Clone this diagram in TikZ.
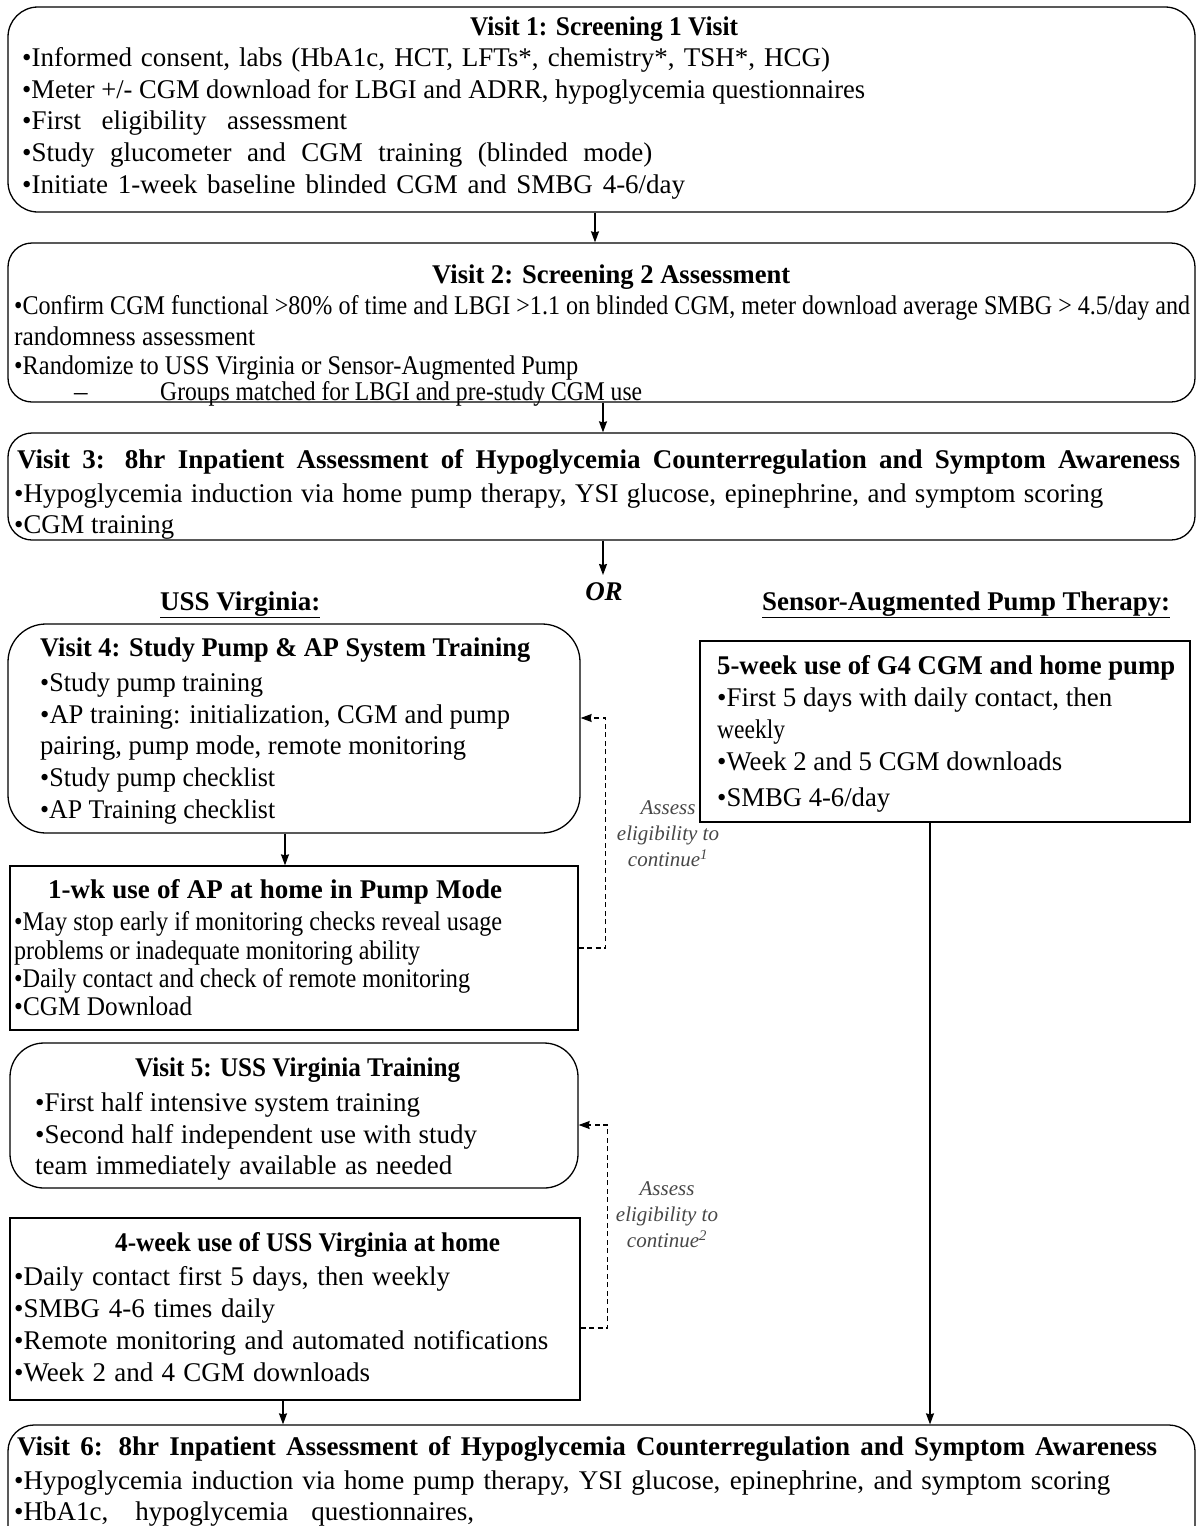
\documentclass[tikz,border=0pt]{standalone}
\usepackage{fontspec}
\setmainfont{Liberation Serif}
\usepackage{graphicx}
\usetikzlibrary{arrows.meta}
\newsavebox\fitbox
\newcommand\fitw[2]{\sbox\fitbox{#2}\ifdim\wd\fitbox>#1pt\relax\scalebox{\fpeval{(#1)/(\the\wd\fitbox)}}[1]{\usebox\fitbox}\else\makebox[#1pt][s]{#2}\fi}
\tikzset{
  box/.style={draw=black, line width=1.3pt, inner sep=0pt, fill=white},
  rbox/.style={box, rounded corners=#1},
  tl/.style={anchor=west, inner sep=0pt, text height=20pt, text depth=4pt, font=\fontsize{27}{30}\selectfont},
  tt/.style={tl, font=\fontsize{27}{30}\selectfont\bfseries},
  arr/.style={line width=1.3pt, -{Stealth[length=11pt,width=8pt,inset=1pt]}},
  darr/.style={line width=1.1pt, dash pattern=on 5pt off 3.5pt, -{Stealth[length=11pt,width=8pt,inset=1pt]}},
  lab/.style={font=\fontsize{21}{26}\selectfont\itshape, align=center, text=black!72, inner sep=1pt}
}
\begin{document}
\begin{tikzpicture}[x=1pt,y=-1pt]
\useasboundingbox (0,0) rectangle (1202,1526);
\clip (0,0) rectangle (1202,1526);
\fill[white] (0,0) rectangle (1202,1526);
% boxes
\node[rbox=30pt, minimum width=1187pt, minimum height=205pt] (v1) at (601.5,109.5) {};
\node[rbox=24pt, minimum width=1187pt, minimum height=159pt] (v2) at (601.5,322.5) {};
\node[rbox=24pt, minimum width=1187pt, minimum height=107pt] (v3) at (601.5,486.5) {};
\node[rbox=38pt, minimum width=572pt, minimum height=209pt] (v4) at (294,728.5) {};
\node[box, minimum width=490pt, minimum height=181pt] (sap) at (945,731.5) {};
\node[box, minimum width=568pt, minimum height=164pt] (wk1) at (294,948) {};
\node[rbox=34pt, minimum width=568pt, minimum height=145pt] (v5) at (294,1115.5) {};
\node[box, minimum width=570pt, minimum height=182pt] (wk4) at (295,1309) {};
\node[rbox=26pt, minimum width=1187pt, minimum height=145pt] (v6) at (601.5,1497.5) {};
% Visit 1
\node[tt, anchor=center] (v1t) at (604,27) {\fitw{268}{Visit 1: Screening 1 Visit}};
\node[tl] (v1a) at (22,58) {\fitw{808}{•Informed consent, labs (HbA1c, HCT, LFTs*, chemistry*, TSH*, HCG)}};
\node[tl] (v1b) at (22,90) {\fitw{843}{•Meter +/- CGM download for LBGI and ADRR, hypoglycemia questionnaires}};
\node[tl] (v1c) at (22,121) {\fitw{325}{•First eligibility assessment}};
\node[tl] (v1d) at (22,153) {\fitw{630}{•Study glucometer and CGM training (blinded mode)}};
\node[tl] (v1e) at (22,185) {\fitw{663}{•Initiate 1-week baseline blinded CGM and SMBG 4-6/day}};
% Visit 2
\node[tt] (v2t) at (432,275) {\fitw{358}{Visit 2: Screening 2 Assessment}};
\node[tl] (v2a) at (14,306) {\fitw{1176}{•Confirm CGM functional >80\% of time and LBGI >1.1 on blinded CGM, meter download average SMBG > 4.5/day and}};
\node[tl] (v2b) at (14,337) {\fitw{241}{randomness assessment}};
\node[tl] (v2c) at (14,366) {\fitw{564}{•Randomize to USS Virginia or Sensor-Augmented Pump}};
\node[tl] (v2d) at (74,392) {–};
\node[tl] (v2e) at (160,392) {\fitw{482}{Groups matched for LBGI and pre-study CGM use}};
% Visit 3
\node[tt] (v3t) at (17,460) {\fitw{1163}{Visit 3: 8hr Inpatient Assessment of Hypoglycemia Counterregulation and Symptom Awareness}};
\node[tl] (v3a) at (14,494) {\fitw{1089}{•Hypoglycemia induction via home pump therapy, YSI glucose, epinephrine, and symptom scoring}};
\node[tl] (v3b) at (14,525) {\fitw{160}{•CGM training}};
% branch headings
\coordinate (ortop) at (603,575);
\node[tt, anchor=center, font=\fontsize{27}{30}\selectfont\bfseries\itshape] (or) at (604,592) {OR};
\node[tt] (hv) at (160,602) {\fitw{170}{\underline{USS Virginia:}}};
\node[tt] (hs) at (762,602) {\fitw{408}{\underline{Sensor-Augmented Pump Therapy:}}};
% Visit 4
\node[tt] (v4t) at (40,648) {\fitw{490}{Visit 4: Study Pump \& AP System Training}};
\node[tl] (v4a) at (40,683) {\fitw{223}{•Study pump training}};
\node[tl] (v4b) at (40,715) {\fitw{470}{•AP training: initialization, CGM and pump}};
\node[tl] (v4c) at (40,746) {\fitw{426}{pairing, pump mode, remote monitoring}};
\node[tl] (v4d) at (40,778) {\fitw{235}{•Study pump checklist}};
\node[tl] (v4e) at (40,810) {\fitw{235}{•AP Training checklist}};
% SAP
\node[tt] (st) at (717,666) {\fitw{458}{5-week use of G4 CGM and home pump}};
\node[tl] (sa) at (717,698) {\fitw{395}{•First 5 days with daily contact, then}};
\node[tl] (sb) at (717,730) {\fitw{68}{weekly}};
\node[tl] (sc) at (717,762) {\fitw{345}{•Week 2 and 5 CGM downloads}};
\node[tl] (sd) at (717,798) {\fitw{173}{•SMBG 4-6/day}};
% 1-wk
\node[tt] (w1t) at (48,890) {\fitw{454}{1-wk use of AP at home in Pump Mode}};
\node[tl] (w1a) at (14,922) {\fitw{488}{•May stop early if monitoring checks reveal usage}};
\node[tl] (w1b) at (14,951) {\fitw{406}{problems or inadequate monitoring ability}};
\node[tl] (w1c) at (14,979) {\fitw{456}{•Daily contact and check of remote monitoring}};
\node[tl] (w1d) at (14,1007) {\fitw{178}{•CGM Download}};
% Visit 5
\node[tt] (v5t) at (135,1068) {\fitw{325}{Visit 5: USS Virginia Training}};
\node[tl] (v5a) at (35,1103) {\fitw{385}{•First half intensive system training}};
\node[tl] (v5b) at (35,1135) {\fitw{442}{•Second half independent use with study}};
\node[tl] (v5c) at (35,1166) {\fitw{417}{team immediately available as needed}};
% 4-week
\node[tt] (w4t) at (115,1243) {\fitw{385}{4-week use of USS Virginia at home}};
\node[tl] (w4a) at (14,1277) {\fitw{436}{•Daily contact first 5 days, then weekly}};
\node[tl] (w4b) at (14,1309) {\fitw{261}{•SMBG 4-6 times daily}};
\node[tl] (w4c) at (14,1341) {\fitw{534}{•Remote monitoring and automated notifications}};
\node[tl] (w4d) at (14,1373) {\fitw{356}{•Week 2 and 4 CGM downloads}};
% Visit 6
\node[tt] (v6t) at (17,1447) {\fitw{1140}{Visit 6: 8hr Inpatient Assessment of Hypoglycemia Counterregulation and Symptom Awareness}};
\node[tl] (v6a) at (14,1481) {\fitw{1096}{•Hypoglycemia induction via home pump therapy, YSI glucose, epinephrine, and symptom scoring}};
\node[tl] (v6b) at (14,1512) {\fitw{460}{•HbA1c, hypoglycemia questionnaires,}};
% labels
\node[lab] (a1) at (668,834) {Assess\\eligibility to\\continue\textsuperscript{1}};
\node[lab] (a2) at (667,1215) {Assess\\eligibility to\\continue\textsuperscript{2}};
% connectors
\draw[arr] ([xshift=-6.5pt]v1.south) -- ([xshift=-6.5pt]v2.north);
\draw[arr] ([xshift=1.5pt]v2.south) -- ([xshift=1.5pt]v3.north);
\draw[arr] ([xshift=1.5pt]v3.south) -- (ortop);
\draw[arr] ([xshift=-9pt]v4.south) -- ([xshift=-9pt]wk1.north);
\coordinate (w4s) at ([xshift=-12pt]wk4.south);
\draw[arr] (w4s) -- (w4s |- v6.north);
\coordinate (sps) at ([xshift=-15pt]sap.south);
\draw[arr] (sps) -- (sps |- v6.north);
\coordinate (d1t) at ([yshift=10.5pt]v4.east);
\draw[darr] (wk1.east) -- ++(27,0) |- (d1t);
\coordinate (d2s) at ([yshift=-19pt]wk4.east);
\coordinate (d2t) at ([yshift=-9.5pt]v5.east);
\draw[darr] (d2s) -- ++(27,0) |- (d2t);
\end{tikzpicture}
\end{document}
